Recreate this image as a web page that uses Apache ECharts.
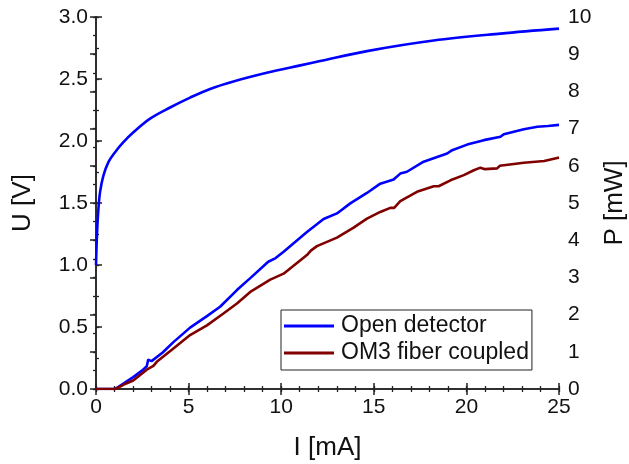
<!DOCTYPE html>
<html>
<head>
<meta charset="utf-8">
<script src="https://cdn.jsdelivr.net/npm/echarts@6/dist/echarts.min.js"></script>
<style>html,body{margin:0;padding:0;background:#fff}#c{width:629px;height:464px}</style>
</head>
<body>
<div id="c"></div>
<script>
// U-I curve (left axis)
const uCurrent = [0, 0.03, 0.07, 0.13, 0.22, 0.4, 0.67, 1.03, 1.48, 2.02, 2.92, 4.0, 5.08, 6.16, 7.42, 9.22, 11.03, 12.1, 14.63, 18.23, 21.84, 25];
const uVoltage = [1.0, 1.15, 1.3, 1.45, 1.59, 1.72, 1.83, 1.91, 1.99, 2.07, 2.18, 2.27, 2.35, 2.42, 2.48, 2.55, 2.61, 2.645, 2.725, 2.81, 2.866, 2.906];
// P-I open detector (right axis)
const openCurrent = [0, 1.03, 1.5, 2.01, 2.5, 2.74, 2.82, 3.0, 3.6, 4.18, 5.08, 5.99, 6.7, 7.61, 8.33, 9.3, 9.7, 10.13, 11.39, 12.29, 13.01, 13.73, 14.63, 15.35, 16.07, 16.43, 16.79, 17.69, 18.96, 19.23, 20.04, 20.94, 21.84, 22.02, 23.1, 23.83, 24.4, 24.5, 25];
const openPower = [0, 0, 0.15, 0.32, 0.5, 0.61, 0.79, 0.75, 0.98, 1.26, 1.65, 1.96, 2.21, 2.66, 2.98, 3.42, 3.52, 3.69, 4.22, 4.57, 4.72, 4.99, 5.27, 5.52, 5.63, 5.79, 5.84, 6.11, 6.33, 6.42, 6.57, 6.69, 6.78, 6.85, 6.98, 7.05, 7.07, 7.10, 7.10];
// P-I OM3 fiber coupled (right axis)
const om3Current = [0, 1.05, 1.5, 2.01, 2.74, 3.1, 3.28, 4.18, 5.08, 5.99, 6.88, 7.61, 8.33, 9.41, 10.13, 11.39, 11.6, 11.93, 13.01, 13.91, 14.63, 15.35, 15.89, 16.1, 16.43, 17.33, 18.24, 18.5, 19.14, 19.86, 20.4, 20.76, 21.0, 21.66, 21.8, 23.1, 24.2, 24.9, 25];
const om3Power = [0, 0, 0.12, 0.23, 0.52, 0.62, 0.73, 1.09, 1.45, 1.71, 2.03, 2.30, 2.61, 2.94, 3.10, 3.60, 3.72, 3.84, 4.07, 4.34, 4.58, 4.76, 4.87, 4.87, 5.05, 5.30, 5.45, 5.45, 5.61, 5.75, 5.88, 5.95, 5.91, 5.93, 6.0, 6.08, 6.13, 6.21, 6.22];

const seriesNames = ['Open detector', 'OM3 fiber coupled'];
const axisNames = { x: 'I [mA]', u: 'U [V]', p: 'P [mW]' };

const zip = (a, b) => a.map((v, i) => [v, b[i]]);
const FONT = 'Liberation Sans, Arial, sans-serif';
const INK = '#222';
const axisLine = { show: true, lineStyle: { color: INK, width: 1.5 } };
const majorTick = { show: true, inside: true, length: 6, lineStyle: { color: INK, width: 1.5 } };
const minorTick = { show: true, inside: true, length: 3, lineStyle: { color: INK, width: 1.3 } };
const label = { color: '#111', fontSize: 21, fontFamily: FONT };
const nameStyle = { color: '#111', fontSize: 26, fontFamily: FONT };
const off = { show: false };

// helper: a tick-only axis used to draw inward minor ticks
const minorAxis = (position, max, interval) => ({
  type: 'value', min: 0, max, interval, position,
  axisLine: off, axisTick: minorTick, axisLabel: off, splitLine: off
});

const chart = echarts.init(document.getElementById('c'), null, { renderer: 'canvas' });
chart.setOption({
  animation: false,
  backgroundColor: '#fff',
  grid: { left: 96, right: 70, top: 17, bottom: 75, containLabel: false, outerBoundsMode: 'none' },
  legend: {
    orient: 'vertical',
    left: 281, top: 310,
    data: seriesNames,
    itemWidth: 50, itemHeight: 3, itemGap: 3,
    borderColor: INK, borderWidth: 1, borderRadius: 0,
    padding: [4, 3, 5, 3],
    backgroundColor: '#fff',
    textStyle: { color: '#111', fontSize: 23, fontFamily: FONT, lineHeight: 24, padding: [0, 0, 0, 2] },
    icon: 'rect'
  },
  xAxis: [
    { type: 'value', min: 0, max: 25, interval: 5, position: 'bottom',
      name: axisNames.x, nameLocation: 'middle', nameGap: 46, nameTextStyle: nameStyle,
      axisLine, axisTick: majorTick, axisLabel: Object.assign({ margin: 8 }, label), splitLine: off },
    { type: 'value', min: 0, max: 25, interval: 5, position: 'top',
      axisLine, axisTick: majorTick, axisLabel: off, splitLine: off },
    minorAxis('bottom', 25, 1),
    minorAxis('top', 25, 1)
  ],
  yAxis: [
    { type: 'value', min: 0, max: 3, interval: 0.5, position: 'left',
      name: axisNames.u, nameLocation: 'middle', nameGap: 60, nameTextStyle: nameStyle,
      axisLine, axisTick: majorTick, axisLabel: Object.assign({ margin: 8, formatter: v => v.toFixed(1) }, label), splitLine: off },
    { type: 'value', min: 0, max: 10, interval: 1, position: 'right',
      name: axisNames.p, nameLocation: 'middle', nameGap: 41, nameTextStyle: nameStyle,
      axisLine, axisTick: majorTick, axisLabel: Object.assign({ margin: 9 }, label), splitLine: off },
    minorAxis('left', 3, 0.25),
    minorAxis('right', 10, 0.5)
  ],
  series: [
    { name: 'U', type: 'line', xAxisIndex: 0, yAxisIndex: 0, data: zip(uCurrent, uVoltage),
      showSymbol: false, symbol: 'none', smooth: 0.35,
      lineStyle: { color: '#0000ff', width: 2.6 }, itemStyle: { color: '#0000ff' } },
    { name: seriesNames[0], type: 'line', xAxisIndex: 0, yAxisIndex: 1, data: zip(openCurrent, openPower),
      showSymbol: false, symbol: 'none',
      lineStyle: { color: '#0000ff', width: 2.6 }, itemStyle: { color: '#0000ff' } },
    { name: seriesNames[1], type: 'line', xAxisIndex: 0, yAxisIndex: 1, data: zip(om3Current, om3Power),
      showSymbol: false, symbol: 'none',
      lineStyle: { color: '#800000', width: 2.6 }, itemStyle: { color: '#800000' } }
  ]
});
</script>
</body>
</html>
